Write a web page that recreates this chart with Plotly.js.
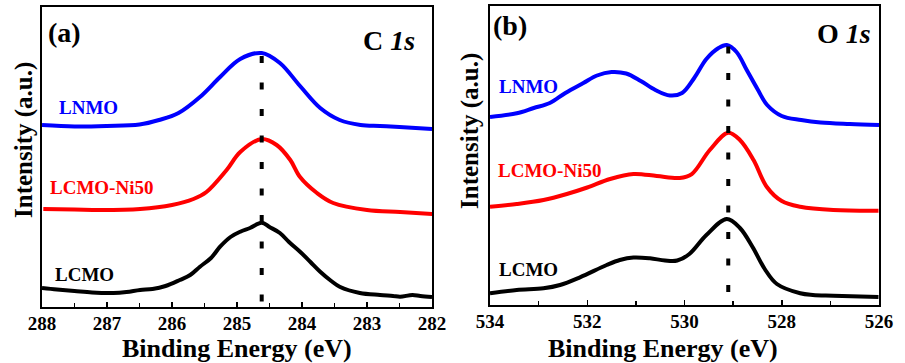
<!DOCTYPE html>
<html>
<head>
<meta charset="utf-8">
<script src="https://cdn.plot.ly/plotly-3.0.1.min.js"></script>
<style>html,body{margin:0;padding:0;background:#fff;}#chart{width:905px;height:363px;}</style>
</head>
<body>
<div id="chart"></div>
<script>
// ---- (a) C 1s data: binding energy (eV) and intensity (a.u., offset-stacked) ----
const c1sEnergyLNMO = [288.0,287.5,287.0,286.5,286.2,285.9,285.57,285.26,284.95,284.62,284.34,284.03,283.72,283.42,283.1,282.8,282.5,282.0];
const c1sLNMO       = [182,180.5,181,182.5,187,194,210,230,248,254,244,221,199,187,182,181,180,178];

const c1sEnergyNi50 = [287.98,287.5,287.11,286.49,286.0,285.67,285.47,285.16,284.95,284.62,284.39,284.18,284.03,283.77,283.52,283.0,282.49,281.99];
const c1sNi50       = [98,97.5,97,98,102,108,115,137,155,168,162,147,130,114,104,97,95,93];

const c1sEnergyLCMO = [288.0,287.77,287.5,287.23,286.9,286.7,286.49,286.3,286.1,285.88,285.72,285.57,285.4,285.26,285.1,284.95,284.8,284.62,284.5,284.34,284.2,284.03,283.87,283.72,283.55,283.42,283.11,282.8,282.6,282.49,282.3,282.18,282.0];
const c1sLCMO       = [19,17.5,16,14.5,14,15,17,18,21,27,32,40.3,49,60.3,70,75.3,79,84.3,80,74,65,55.3,45,35.3,26,20.3,14,12,11,10.3,12,11,10];

// ---- (b) O 1s data ----
const o1sEnergyLNMO = [534.0,533.45,533.1,532.77,532.45,532.08,531.8,531.5,531.2,530.9,530.6,530.3,530.05,529.8,529.55,529.3,529.13,528.93,528.72,528.5,528.3,528.0,527.6,527.2,526.6,526.0];
const o1sLNMO       = [188,191.7,197,202,212,222,229.5,233,231.5,224,215,209.5,212,227,246,257,260,253,235,216,200,189,185,182.5,181,180];

const o1sEnergyNi50 = [534.0,533.45,532.9,532.42,532.0,531.53,531.05,530.57,530.1,529.85,529.48,529.1,528.86,528.58,528.31,528.0,527.62,526.94,526.01];
const o1sNi50       = [98.3,101,105,111,117.5,126,131,129,127,131,155,172.3,165,145,118.3,104,98.3,95,94.3];

const o1sEnergyLCMO = [534.0,533.45,532.9,532.56,532.15,531.6,531.33,531.05,530.71,530.4,530.15,529.9,529.55,529.13,528.86,528.6,528.35,528.1,527.62,527.36,526.94,526.01];
const o1sLCMO       = [11.7,15,16.7,20,27.7,40,45,47.5,46.7,44.5,44.5,51,70,86,77,58,36,21,11.7,10,9.3,8];

// peak reference positions (eV) and the top of the dotted guide line
const peakC1s = [284.62, 284.62];
const peakC1sI = [251, 0];
const peakO1s = [529.1, 529.1];
const peakO1sI = [258.5, 0];

const sampleNames = ['LNMO', 'LCMO-Ni50', 'LCMO'];
const colors = ['#0000FF', '#FF0000', '#000000'];

const FONT = '"Times New Roman", "Liberation Serif", Times, serif';
const lw = 4;
function line(x, y, color, xa, ya, name) {
  return {x: x, y: y, type: 'scatter', mode: 'lines', name: name, xaxis: xa, yaxis: ya,
    line: {color: color, width: lw, shape: 'spline', smoothing: 1}, hoverinfo: 'x+y', showlegend: false};
}
const traces = [
  line(c1sEnergyLNMO, c1sLNMO, colors[0], 'x', 'y', sampleNames[0]),
  line(c1sEnergyNi50, c1sNi50, colors[1], 'x', 'y', sampleNames[1]),
  line(c1sEnergyLCMO, c1sLCMO, colors[2], 'x', 'y', sampleNames[2]),
  line(o1sEnergyLNMO, o1sLNMO, colors[0], 'x2', 'y2', sampleNames[0]),
  line(o1sEnergyNi50, o1sNi50, colors[1], 'x2', 'y2', sampleNames[1]),
  line(o1sEnergyLCMO, o1sLCMO, colors[2], 'x2', 'y2', sampleNames[2]),
  {x: peakC1s, y: peakC1sI, type: 'scatter', mode: 'lines', xaxis: 'x', yaxis: 'y', showlegend: false,
    line: {color: '#000', width: 4, dash: '7px,19.5px'}, hoverinfo: 'skip'},
  {x: peakO1s, y: peakO1sI, type: 'scatter', mode: 'lines', xaxis: 'x2', yaxis: 'y2', showlegend: false,
    line: {color: '#000', width: 4, dash: '7px,19.5px'}, hoverinfo: 'skip'}
];

const W = 905, H = 363;
const px = v => v / W, py = v => 1 - v / H;

function xax(domain, range, dtick, minorDtick) {
  return {
    domain: domain, range: range, autorange: false,
    showline: true, linecolor: '#000', linewidth: 2, mirror: true,
    ticks: 'inside', ticklen: 5, tickwidth: 1.5, tickcolor: '#000', dtick: dtick, tick0: 0,
    minor: {dtick: minorDtick, ticks: 'inside', ticklen: 4, tickwidth: 1.5, tickcolor: '#000'},
    showgrid: false, zeroline: false, ticklabelstandoff: -2,
    tickfont: {family: FONT, size: 19, color: '#000', weight: 'bold'}
  };
}
function yax(domain, range) {
  return {domain: domain, range: range, autorange: false, showline: true, linecolor: '#000', linewidth: 2,
    mirror: true, ticks: '', showticklabels: false, showgrid: false, zeroline: false};
}

const layout = {
  width: W, height: H,
  margin: {l: 0, r: 0, t: 0, b: 0},
  paper_bgcolor: '#fff', plot_bgcolor: '#fff',
  font: {family: FONT},
  xaxis: Object.assign(xax([px(42), px(432)], [288, 282], 1, 0.5), {anchor: 'y'}),
  yaxis: yax([py(307), py(7)], [0, 300]),
  xaxis2: Object.assign(xax([px(490), px(879)], [534, 526], 2, 1), {anchor: 'y2'}),
  yaxis2: Object.assign(yax([py(305), py(6)], [0, 299]), {anchor: 'x2'}),
  annotations: []
};

function ann(text, x, y, size, color, xanchor, extra) {
  return Object.assign({text: text, xref: 'paper', yref: 'paper', x: px(x), y: py(y), xanchor: xanchor || 'center',
    yanchor: 'middle', showarrow: false, borderpad: 0, font: {family: FONT, size: size, color: color, weight: 'bold'}}, extra || {});
}
layout.annotations.push(
  ann('Binding Energy (eV)', 237, 348, 26, '#000'),
  ann('Binding Energy (eV)', 663, 348, 26, '#000'),
  ann('Intensity (a.u.)', 24, 140, 25, '#000', 'center', {textangle: -90}),
  ann('Intensity (a.u.)', 470, 131, 25, '#000', 'center', {textangle: -90}),
  ann('(a)', 47, 32, 28, '#000', 'left'),
  ann('C <i>1s</i>', 416, 40, 28, '#000', 'right'),
  ann('(b)', 492, 25, 28, '#000', 'left'),
  ann('O <i>1s</i>', 872, 33, 28, '#000', 'right'),
  ann(sampleNames[0], 88, 107, 19, colors[0]),
  ann(sampleNames[1], 101, 187, 19, colors[1]),
  ann(sampleNames[2], 84, 274, 19, colors[2]),
  ann(sampleNames[0], 528, 87, 19, colors[0]),
  ann(sampleNames[1], 549, 170, 19, colors[1]),
  ann(sampleNames[2], 528, 269, 19, colors[2])
);

Plotly.newPlot('chart', traces, layout, {displayModeBar: false, staticPlot: true});
</script>
</body>
</html>
